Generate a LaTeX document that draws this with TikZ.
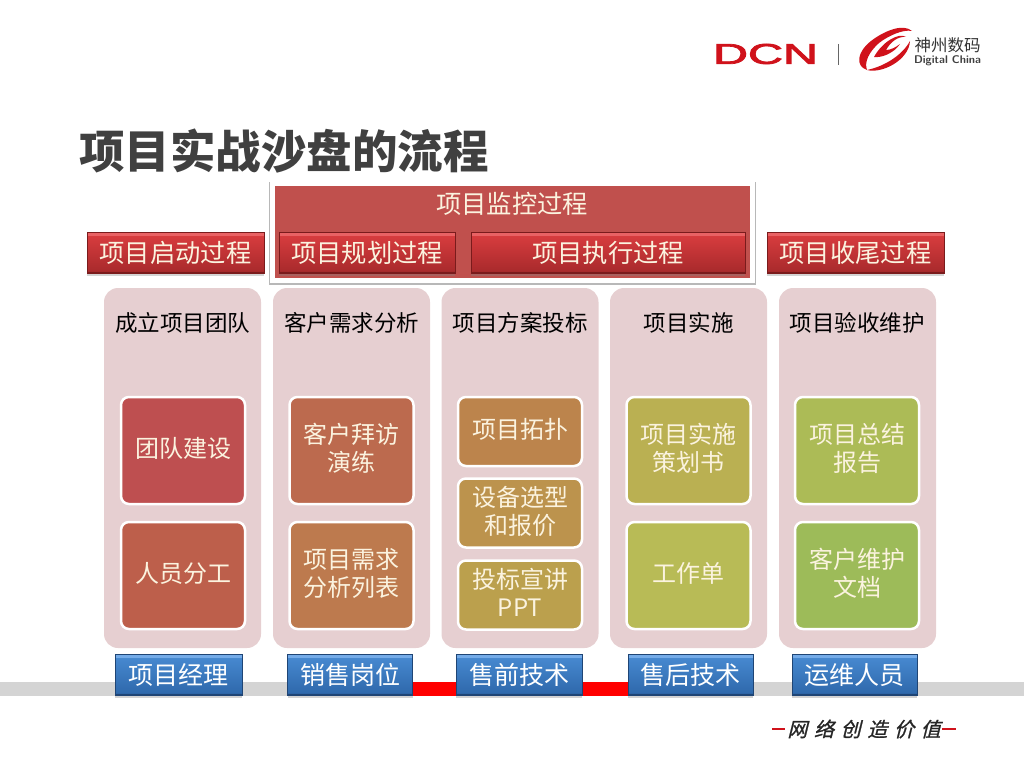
\documentclass[tikz,border=0pt]{standalone}
\usepackage{fontspec}
\setmainfont{Noto Sans CJK SC}
\newfontfamily\slogfont[FakeSlant=0.25,FakeBold=1]{Noto Sans CJK SC}
\newfontfamily\dcnfont[FakeBold=2.5]{Liberation Sans}
\usetikzlibrary{shadows,backgrounds}
\definecolor{panelbg}{HTML}{E6CFD1}
\definecolor{monitorred}{HTML}{C0504D}
\definecolor{logored}{HTML}{D0121B}
\definecolor{boxtext}{HTML}{FBF3DF}
\definecolor{titlegray}{HTML}{404040}
\definecolor{bargray}{HTML}{D4D4D4}
\definecolor{redtop}{HTML}{E96264}
\definecolor{redhigh}{HTML}{D73C3E}
\definecolor{redlow}{HTML}{A92A2C}
\definecolor{redbot}{HTML}{7A1B1C}
\definecolor{bluetop}{HTML}{74ABE8}
\definecolor{bluehigh}{HTML}{4688CF}
\definecolor{bluelow}{HTML}{2F69AC}
\definecolor{bluebot}{HTML}{1F4575}
\pgfdeclareverticalshading{procshade}{100bp}{color(0bp)=(redbot); color(27.5bp)=(redbot); color(28bp)=(redlow); color(71bp)=(redhigh); color(71.5bp)=(redtop); color(100bp)=(redtop)}
\pgfdeclareverticalshading{roleshade}{100bp}{color(0bp)=(bluebot); color(27.5bp)=(bluebot); color(28bp)=(bluelow); color(71bp)=(bluehigh); color(71.5bp)=(bluetop); color(100bp)=(bluetop)}
\tikzset{
  panelbox/.style={fill=panelbg,rounded corners=14pt,inner sep=0pt},
  headtext/.style={font=\fontsize{22.5}{26}\selectfont,text=black,inner sep=0pt},
  taskbox/.style={draw=white,line width=2.5pt,rounded corners=8pt,inner sep=0pt,text=boxtext,align=center,
    font=\fontsize{24}{28}\selectfont,minimum width=124pt,execute at end node={\rule[-6pt]{0pt}{0pt}}},
  procbtn/.style={draw=redbot,line width=.5pt,shading=procshade,
    drop shadow={shadow xshift=0pt,shadow yshift=-2.5pt,opacity=.35},inner sep=0pt,text=boxtext,
    font=\fontsize{25.3}{28}\selectfont,minimum height=41pt},
  rolebtn/.style={draw=bluebot,line width=.5pt,shading=roleshade,
    drop shadow={shadow xshift=0pt,shadow yshift=-2.5pt,opacity=.35},inner sep=0pt,text=white,
    font=\fontsize{25}{28}\selectfont,minimum height=41pt},
}
\begin{document}
\begin{tikzpicture}[x=1pt,y=-1pt]
  \useasboundingbox (0,0) rectangle (1024,768);
  % title
  \node [font=\fontsize{45.5}{50}\selectfont\bfseries,text=titlegray,anchor=west,inner sep=0pt] (title) at (79,151) {项目实战沙盘的流程};
  % logo
  \node [inner sep=0pt,text=logored] (dcn) at (765.5,54) {\resizebox{105pt}{20pt}{\dcnfont DCN}};
  \coordinate (septop) at (838,44);
  \coordinate (sepbot) at (838,65);
  \draw [black!60,line width=.8pt] (septop) -- (sepbot);
  \fill [logored] (867,70) .. controls (855,66) and (857,52) .. (871,41) .. controls (884,31) and (903,23) .. (912,31) .. controls (903,29) and (888,36) .. (879,43) .. controls (869,52) and (864,62) .. (867,70);
  \fill [logored] (867,70) .. controls (882,74) and (909,60) .. (910,41) .. controls (903,54) and (886,66) .. (867,70);
  \fill [logored] (874,57) .. controls (882,42) and (899,32) .. (906,37) .. controls (897,36) and (890,43) .. (886,50) .. controls (891,50) and (896,47) .. (900,44) .. controls (894,53) and (882,58) .. (874,57);
  \node [inner sep=0pt,font=\fontsize{16.5}{18}\selectfont,text=black!80] (cnname) at (947.5,45) {神州数码};
  \node [inner sep=0pt,font=\sffamily\bfseries,text=black!75] (enname) at (947.5,60.5) {\resizebox{67pt}{!}{Digital China}};
  % monitoring frame
  \node [fill=black!28,minimum width=487pt,minimum height=103pt,inner sep=0pt] (monitorshade) at (512.5,233.5) {};
  \node [fill=monitorred,draw=white,line width=5pt,minimum width=480pt,minimum height=97pt,inner sep=0pt] (monitor) at (512.5,232) {};
  \node [inner sep=0pt,text=boxtext,font=\fontsize{25.3}{28}\selectfont] (monitortext) at (512,204) {项目监控过程};
  % process buttons
  \node [procbtn,minimum width=177pt] (start) at (175.5,253) {项目启动过程};
  \node [procbtn,minimum width=176pt] (plan) at (367,253) {项目规划过程};
  \node [procbtn,minimum width=274pt] (exec) at (608,253) {项目执行过程};
  \node [procbtn,minimum width=177pt] (close) at (855.5,253) {项目收尾过程};
  % columns
  \node [panelbox,minimum width=157pt,minimum height=360pt] (panela) at (182.5,468) {};
  \node [panelbox,minimum width=157pt,minimum height=360pt] (panelb) at (351.5,468) {};
  \node [panelbox,minimum width=157pt,minimum height=360pt] (panelc) at (520,468) {};
  \node [panelbox,minimum width=157pt,minimum height=360pt] (paneld) at (688.5,468) {};
  \node [panelbox,minimum width=157pt,minimum height=360pt] (panele) at (857.5,468) {};
  \node [headtext] (heada) at (182.5,323) {成立项目团队};
  \node [headtext] (headb) at (351.5,323) {客户需求分析};
  \node [headtext] (headc) at (520,323) {项目方案投标};
  \node [headtext] (headd) at (688.5,323) {项目实施};
  \node [headtext] (heade) at (857,323) {项目验收维护};
  % tasks
  \node [taskbox,fill={rgb,255:red,190;green,79;blue,80},minimum height=107pt] (taska) at (183,450.5) {团队建设};
  \node [taskbox,fill={rgb,255:red,189;green,95;blue,75},minimum height=107pt] (taskb) at (183,575.5) {人员分工};
  \node [taskbox,fill={rgb,255:red,188;green,106;blue,78},minimum height=107pt] (taskc) at (351.5,450.5) {客户拜访\\演练};
  \node [taskbox,fill={rgb,255:red,189;green,122;blue,78},minimum height=107pt] (taskd) at (351.5,575.5) {项目需求\\分析列表};
  \node [taskbox,fill={rgb,255:red,188;green,132;blue,76},minimum height=69pt] (taske) at (520,431.5) {项目拓扑};
  \node [taskbox,fill={rgb,255:red,188;green,147;blue,77},minimum height=69pt] (taskf) at (520,513) {设备选型\\和报价};
  \node [taskbox,fill={rgb,255:red,187;green,160;blue,77},minimum height=69pt] (taskg) at (520,595) {投标宣讲\\PPT};
  \node [taskbox,fill={rgb,255:red,186;green,176;blue,82},minimum height=107pt] (taskh) at (688.5,450.5) {项目实施\\策划书};
  \node [taskbox,fill={rgb,255:red,184;green,187;blue,86},minimum height=107pt] (taski) at (688.5,575.5) {工作单};
  \node [taskbox,fill={rgb,255:red,172;green,187;blue,86},minimum height=107pt] (taskj) at (857,450.5) {项目总结\\报告};
  \node [taskbox,fill={rgb,255:red,157;green,187;blue,89},minimum height=107pt] (taskk) at (857,575.5) {客户维护\\文档};
  % bottom bar and roles
  \coordinate (barl) at (0,689);
  \coordinate (barr) at (1024,689);
  \node [rolebtn,minimum width=127pt] (rolea) at (178.5,675) {项目经理};
  \node [rolebtn,minimum width=125pt] (roleb) at (350,675) {销售岗位};
  \node [rolebtn,minimum width=126pt] (rolec) at (519,675) {售前技术};
  \node [rolebtn,minimum width=125pt] (roled) at (690.5,675) {售后技术};
  \node [rolebtn,minimum width=125pt] (rolee) at (854.5,675) {运维人员};
  \begin{scope}[on background layer]
    \draw [bargray,line width=14pt] (barl) -- (rolea.west |- barl);
    \draw [bargray,line width=14pt] (rolea.east |- barl) -- (roleb.west |- barl);
    \draw [red,line width=14pt] (roleb.east |- barl) -- (rolec.west |- barl);
    \draw [red,line width=14pt] (rolec.east |- barl) -- (roled.west |- barl);
    \draw [bargray,line width=14pt] (roled.east |- barl) -- (rolee.west |- barl);
    \draw [bargray,line width=14pt] (rolee.east |- barl) -- (barr);
  \end{scope}
  % slogan
  \node [inner sep=0pt,font=\fontsize{20}{22}\selectfont\slogfont,text=black!85] (slogan) at (864,729) {网\,\,络\,\,创\,\,造\,\,价\,\,值};
  \coordinate (dashaa) at (772,729);
  \coordinate (dashab) at (785,729);
  \coordinate (dashba) at (942,729);
  \coordinate (dashbb) at (956,729);
  \draw [logored,line width=2pt] (dashaa) -- (dashab);
  \draw [logored,line width=2pt] (dashba) -- (dashbb);
\end{tikzpicture}
\end{document}
